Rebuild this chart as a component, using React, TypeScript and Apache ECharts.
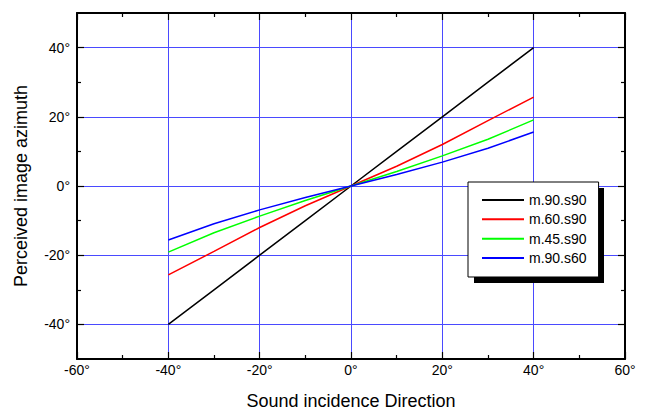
import React, { useEffect, useRef } from "react";
import * as echarts from "echarts";

const xValues = [-40, -30, -20, -10, 0, 10, 20, 30, 40];
const m90s90 = [-40, -30, -20, -10, 0, 10, 20, 30, 40];
const m60s90 = [-25.7, -18.9, -12.0, -5.7, 0, 5.7, 12.0, 18.9, 25.7];
const m45s90 = [-19.1, -13.5, -8.7, -4.2, 0, 4.2, 8.7, 13.5, 19.1];
const m90s60 = [-15.6, -10.9, -6.9, -3.3, 0, 3.3, 6.9, 10.9, 15.6];
const seriesNames = ["m.90.s90", "m.60.s90", "m.45.s90", "m.90.s60"];
const seriesColors = ["#000000", "#ff0000", "#00ff00", "#0000ff"];
const yMajorTicks = [-40, -20, 0, 20, 40];
const yMinorTicks = [-30, -10, 10, 30];

const FONT = "'Liberation Sans', Arial, sans-serif";
const GRID_BLUE = "#4a4aff";

export default function App() {
  const ref = useRef<HTMLDivElement>(null);
  useEffect(() => {
    if (!ref.current) return;
    const chart = echarts.init(ref.current, null, { renderer: "svg" });
    const allData = [m90s90, m60s90, m45s90, m90s60];
    const axisLineStyle = { show: true, onZero: false, lineStyle: { color: "#000", width: 2 } };
    const xBase = {
      type: "value",
      min: -60,
      max: 60,
      interval: 20,
      axisLine: axisLineStyle,
      axisTick: { show: true, inside: true, length: 7, lineStyle: { color: "#000", width: 1.2 } },
      minorTick: { show: true, splitNumber: 2, length: 4, lineStyle: { color: "#000", width: 1.2 } },
    };
    const yBase = {
      type: "value",
      min: -50,
      max: 50,
      axisLine: axisLineStyle,
    };
    chart.setOption({
      animation: false,
      backgroundColor: "#ffffff",
      grid: { left: 77, right: 20, top: 13, bottom: 54, containLabel: false },
      xAxis: [
        {
          ...xBase,
          position: "bottom",
          name: "Sound incidence Direction",
          nameLocation: "middle",
          nameGap: 33,
          nameTextStyle: { fontSize: 18, color: "#000", fontFamily: FONT },
          axisLabel: {
            margin: 4,
            fontSize: 14,
            color: "#000",
            fontFamily: FONT,
            formatter: (v: number) => v + "°",
          },
          splitLine: {
            show: true,
            showMinLine: false,
            showMaxLine: false,
            lineStyle: { color: GRID_BLUE, width: 1 },
          },
        },
        {
          ...xBase,
          position: "top",
          axisLabel: { show: false },
          splitLine: { show: false },
        },
      ],
      yAxis: [
        {
          ...yBase,
          position: "left",
          name: "Perceived image azimuth",
          nameLocation: "middle",
          nameGap: 47,
          nameTextStyle: { fontSize: 18, color: "#000", fontFamily: FONT },
          axisTick: { show: true, inside: true, length: 7, customValues: yMajorTicks, lineStyle: { color: "#000", width: 1.2 } },
          axisLabel: {
            margin: 7,
            fontSize: 14,
            color: "#000",
            fontFamily: FONT,
            customValues: yMajorTicks,
            formatter: (v: number) => v + "°",
          },
          splitLine: { show: true, lineStyle: { color: GRID_BLUE, width: 1 } },
        },
        {
          ...yBase,
          position: "left",
          axisLine: { show: false, onZero: false },
          axisTick: { show: true, inside: true, length: 4, customValues: yMinorTicks, lineStyle: { color: "#000", width: 1.2 } },
          axisLabel: { show: false },
          splitLine: { show: false },
        },
        {
          ...yBase,
          position: "right",
          axisTick: { show: true, inside: true, length: 7, customValues: yMajorTicks, lineStyle: { color: "#000", width: 1.2 } },
          axisLabel: { show: false },
          splitLine: { show: false },
        },
        {
          ...yBase,
          position: "right",
          axisLine: { show: false, onZero: false },
          axisTick: { show: true, inside: true, length: 4, customValues: yMinorTicks, lineStyle: { color: "#000", width: 1.2 } },
          axisLabel: { show: false },
          splitLine: { show: false },
        },
      ],
      legend: {
        orient: "vertical",
        left: 468,
        top: 182,
        padding: [11, 12, 12, 13],
        itemGap: 5.33,
        itemWidth: 42,
        itemHeight: 14,
        backgroundColor: "#ffffff",
        borderColor: "#000",
        borderWidth: 1,
        borderRadius: 0,
        z: 10,
        itemStyle: { opacity: 0, color: "transparent", borderWidth: 0 },
        textStyle: { fontSize: 14, color: "#000", fontFamily: FONT },
        data: seriesNames,
      },
      graphic: [
        {
          type: "rect",
          left: 474,
          top: 188,
          z: 9,
          shape: { width: 130, height: 95 },
          style: { fill: "#000" },
        },
      ],
      series: seriesNames.map((name, i) => ({
        name,
        type: "line",
        xAxisIndex: 0,
        yAxisIndex: 0,
        symbol: "none",
        showSymbol: false,
        color: seriesColors[i],
        lineStyle: { color: seriesColors[i], width: 1.5 },
        data: xValues.map((x, j) => [x, allData[i][j]]),
      })),
    });
    return () => chart.dispose();
  }, []);
  return (
    <div
      ref={ref}
      style={{ position: "absolute", left: 0, top: 0, width: 645, height: 415 }}
    />
  );
}
